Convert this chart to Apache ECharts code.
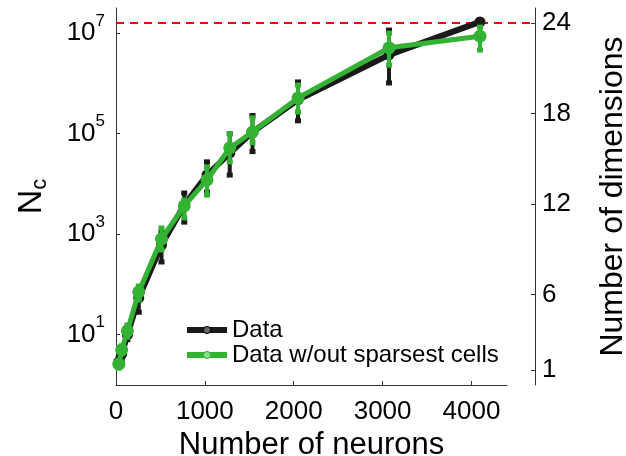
<!DOCTYPE html>
<html><head><meta charset="utf-8">
<script src="https://cdn.jsdelivr.net/npm/echarts@6/dist/echarts.min.js"></script>
<style>html,body{margin:0;padding:0;background:#fff}#c{width:626px;height:456px}</style>
</head><body><div id="c"></div>
<script>
const neurons = [32, 64, 128, 256, 512, 768, 1024, 1280, 1536, 2048, 3072, 4096];
const dataNc = [2.9, 4.1, 9.9, 54, 610, 3800, 15000, 41000, 108000, 470000, 3.7e6, 1.67e7];
const dataLo = [2.5, 3.3, 8.0, 28, 280, 1740, 6900, 15000, 44000, 180000, 1.02e6, 1.5e7];
const dataHi = [3.5, 5.0, 14, 71, 1100, 6600, 27500, 100000, 230000, 1.07e6, 1.15e7, 1.8e7];
const sparseNc = [2.6, 5.0, 11.9, 71, 804, 3650, 12000, 52000, 108000, 515000, 5.1e6, 8.7e6];
const sparseLo = [2.2, 4.2, 9.0, 49, 485, 2100, 6000, 27500, 66000, 270000, 2.3e6, 4.6e6];
const sparseHi = [3.1, 6.0, 15.6, 93, 1330, 4800, 21800, 100000, 205000, 930000, 1.0e7, 1.32e7];
const xTicks = [0, 1000, 2000, 3000, 4000];
const ncTicks = [10, 1000, 1e5, 1e7];
const ncTickExponents = [1, 3, 5, 7];
const dimTicks = [1, 6, 12, 18, 24];
const dimCeiling = 24;

const FONT = 'Liberation Sans';
const chart = echarts.init(document.getElementById('c'), null, {renderer: 'canvas'});

function errRender(color) {
  return function (params, api) {
    const lo = api.coord([api.value(0), api.value(1)]);
    const hi = api.coord([api.value(0), api.value(2)]);
    const w = 6, h = 5;
    return {
      type: 'group',
      children: [
        {type: 'line', shape: {x1: lo[0], y1: lo[1], x2: hi[0], y2: hi[1]}, style: {stroke: color, lineWidth: 4}},
        {type: 'rect', shape: {x: hi[0] - w / 2, y: hi[1] - h / 2, width: w, height: h}, style: {fill: color}},
        {type: 'rect', shape: {x: lo[0] - w / 2, y: lo[1] - h / 2, width: w, height: h}, style: {fill: color}}
      ]
    };
  };
}

const BLACK = '#1a1a1a', GREEN = '#33b233';
const axisLine = {show: true, onZero: false, lineStyle: {color: '#333', width: 1}};
const tickStyle = {color: '#333', width: 1};

chart.setOption({
  animation: false,
  textStyle: {fontFamily: FONT},
  grid: [
    {left: 116, right: 119, top: 8, bottom: 71, outerBoundsMode: 'none', containLabel: false},
    {left: 116, right: 91, top: 8, bottom: 71, outerBoundsMode: 'none', containLabel: false}
  ],
  xAxis: [
    {
      type: 'value', gridIndex: 0, min: 0, max: 4400, interval: 1000,
      axisLine: axisLine, splitLine: {show: false},
      axisTick: {inside: true, length: 4, lineStyle: tickStyle, customValues: xTicks},
      axisLabel: {fontSize: 26, color: '#000', margin: 14, customValues: xTicks, fontFamily: FONT,
        formatter: v => String(v)},
      name: 'Number of neurons', nameLocation: 'middle', nameGap: 42,
      nameTextStyle: {fontSize: 31, color: '#000', fontFamily: FONT}
    },
    {type: 'value', gridIndex: 1, min: 0, max: 1, show: false}
  ],
  yAxis: [
    {
      type: 'log', gridIndex: 0, logBase: 10, min: 1, max: Math.pow(10, 7.5), position: 'left',
      axisLine: axisLine, splitLine: {show: false}, minorTick: {show: false},
      axisTick: {show: false},
      axisLabel: {
        margin: 11, customValues: ncTicks,
        formatter: v => '{a|10}{b|' + Math.round(Math.log10(v)) + '}',
        rich: {
          a: {fontSize: 26, lineHeight: 26, color: '#000', fontFamily: FONT},
          b: {fontSize: 17, lineHeight: 17, color: '#000', padding: [0, 0, 24, 0], fontFamily: FONT}
        }
      },
      name: '{n|N}{c|c}', nameLocation: 'middle', nameRotate: 90, nameGap: 67,
      nameTextStyle: {
        rich: {
          n: {fontSize: 34, lineHeight: 34, color: '#000', fontFamily: FONT},
          c: {fontSize: 22, lineHeight: 22, color: '#000', padding: [16, 0, 0, 0], fontFamily: FONT}
        }
      }
    },
    {
      type: 'value', gridIndex: 1, position: 'right', min: 0, max: 25,
      axisLine: axisLine, splitLine: {show: false},
      axisTick: {inside: true, length: 4, lineStyle: tickStyle, customValues: dimTicks},
      axisLabel: {fontSize: 26, color: '#000', margin: 7, customValues: dimTicks, fontFamily: FONT},
      name: 'Number of dimensions', nameLocation: 'middle', nameRotate: 90, nameGap: 62,
      nameTextStyle: {fontSize: 32, color: '#000', fontFamily: FONT}
    },
    {
      // decade ticks of the left log axis (exponent scale)
      type: 'value', gridIndex: 0, position: 'left', min: 0, max: 7.5,
      axisLine: {show: false, onZero: false}, splitLine: {show: false}, axisLabel: {show: false},
      axisTick: {show: true, inside: true, length: 4, lineStyle: tickStyle, customValues: ncTickExponents}
    }
  ],
  legend: {
    orient: 'vertical', left: 184, top: 318, padding: 0, itemWidth: 40, itemHeight: 9, itemGap: 1,
    textStyle: {fontSize: 24, lineHeight: 24, color: '#000', fontFamily: FONT},
    data: [
      {name: 'Data', itemStyle: {color: '#666', borderColor: '#000', borderWidth: 1},
        lineStyle: {width: 6, color: BLACK}},
      {name: 'Data w/out sparsest cells', itemStyle: {color: '#8fd88f', borderColor: GREEN, borderWidth: 1},
        lineStyle: {width: 6, color: GREEN}}
    ]
  },
  series: [
    {
      type: 'line', xAxisIndex: 1, yAxisIndex: 1, data: [[0, dimCeiling], [1, dimCeiling]],
      symbol: 'none', z: 1, silent: true,
      lineStyle: {color: '#ff0000', width: 2, type: [8, 6]}
    },
    {
      type: 'custom', name: 'Data error', xAxisIndex: 0, yAxisIndex: 0, z: 2,
      data: neurons.map((x, i) => [x, dataLo[i], dataHi[i]]),
      encode: {x: 0, y: [1, 2]}, renderItem: errRender(BLACK)
    },
    {
      type: 'line', name: 'Data', xAxisIndex: 0, yAxisIndex: 0, z: 3,
      data: neurons.map((x, i) => [x, dataNc[i]]),
      symbol: 'circle', symbolSize: 11,
      lineStyle: {color: BLACK, width: 6}, itemStyle: {color: BLACK}
    },
    {
      type: 'custom', name: 'Sparse error', xAxisIndex: 0, yAxisIndex: 0, z: 4,
      data: neurons.map((x, i) => [x, sparseLo[i], sparseHi[i]]),
      encode: {x: 0, y: [1, 2]}, renderItem: errRender(GREEN)
    },
    {
      type: 'line', name: 'Data w/out sparsest cells', xAxisIndex: 0, yAxisIndex: 0, z: 5,
      data: neurons.map((x, i) => [x, sparseNc[i]]),
      symbol: 'circle', symbolSize: 13,
      lineStyle: {color: GREEN, width: 5}, itemStyle: {color: GREEN}
    }
  ]
});
</script></body></html>
